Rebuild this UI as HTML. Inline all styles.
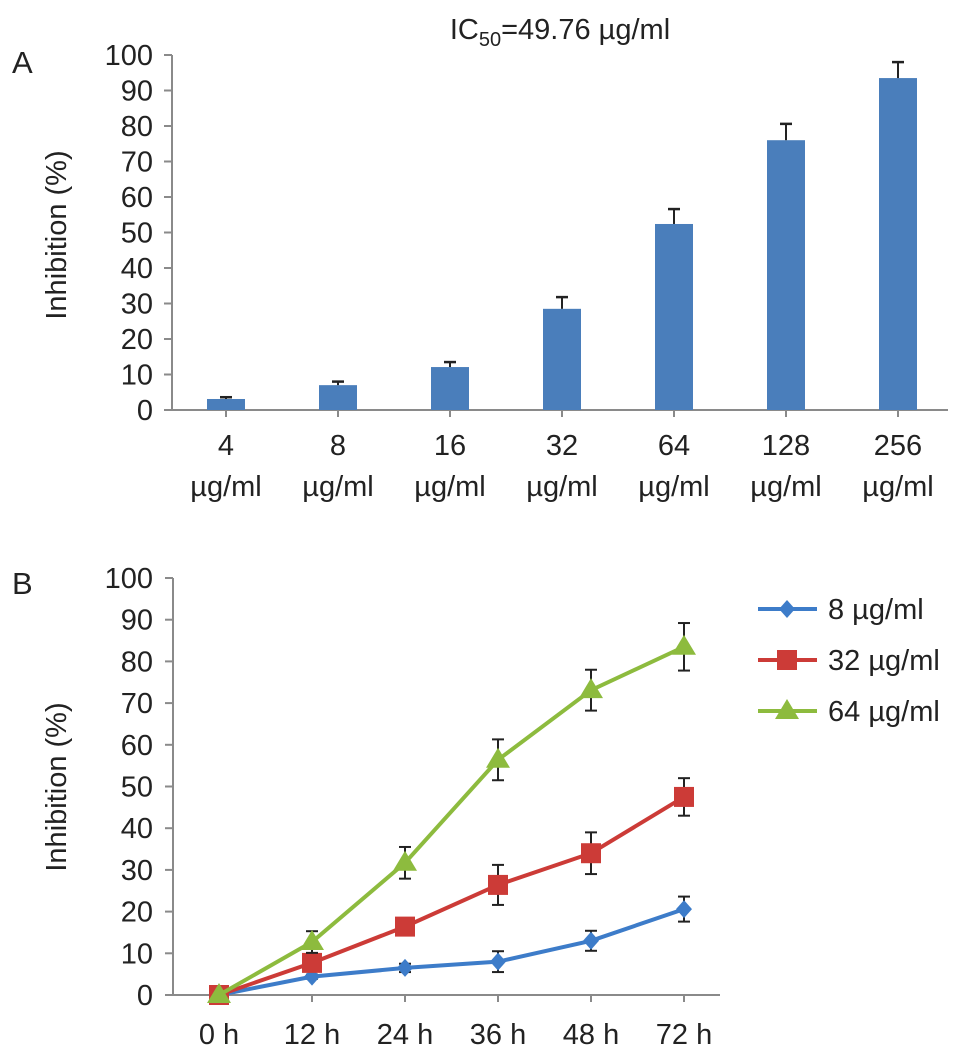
<!DOCTYPE html>
<html><head><meta charset="utf-8"><style>
body{margin:0;background:#fff;}
svg{display:block;font-family:"Liberation Sans",Arial,sans-serif;}
</style></head><body>
<svg id="fig" width="969" height="1055" viewBox="0 0 969 1055">
<text x="12" y="73" font-size="31" fill="#222">A</text>
<text x="12" y="594" font-size="31" fill="#222">B</text>
<text x="560" y="39" font-size="29" text-anchor="middle" fill="#222">IC<tspan font-size="20" dy="7">50</tspan><tspan dy="-7">=49.76 µg/ml</tspan></text>
<text transform="translate(66,235) rotate(-90)" font-size="29" text-anchor="middle" fill="#222">Inhibition (%)</text>
<text transform="translate(66,787) rotate(-90)" font-size="29" text-anchor="middle" fill="#222">Inhibition (%)</text>
<g id="ga"></g><g id="gb"></g>
</svg>
<script>
const aCategories=["4","8","16","32","64","128","256"];
const aValues=[3.1,7,12.1,28.5,52.4,76,93.5];
const aErrors=[0.5,1,1.4,3.3,4.2,4.6,4.5];
const aTicks=[0,10,20,30,40,50,60,70,80,90,100];
const bCategories=["0 h","12 h","24 h","36 h","48 h","72 h"];
const bBlue=[0,4.4,6.5,8,13,20.6];
const bBlueErr=[0,0.5,1,2.5,2.4,3];
const bRed=[0,7.7,16.4,26.4,34,47.5];
const bRedErr=[0,0.6,1.8,4.8,5,4.5];
const bGreen=[0,12.7,31.7,56.4,73.1,83.5];
const bGreenErr=[0,2.6,3.8,4.9,4.9,5.7];
const bSeriesNames=["8 µg/ml","32 µg/ml","64 µg/ml"];
const bTicks=[0,10,20,30,40,50,60,70,80,90,100];
const NS="http://www.w3.org/2000/svg";
function mk(p,t,a){const e=document.createElementNS(NS,t);for(const k in a)e.setAttribute(k,a[k]);p.appendChild(e);return e;}
// Chart A
const ga=document.getElementById('ga');
const ay=v=>410-v*3.55, ax=i=>226+i*112;
mk(ga,'line',{x1:172,y1:ay(0),x2:948,y2:ay(0),stroke:'#8a8a8a','stroke-width':2});
mk(ga,'line',{x1:172,y1:ay(100),x2:172,y2:ay(0),stroke:'#8a8a8a','stroke-width':2});
aTicks.forEach(t=>{
 mk(ga,'line',{x1:164,y1:ay(t),x2:172,y2:ay(t),stroke:'#8a8a8a','stroke-width':2});
 const tx=mk(ga,'text',{x:153,y:ay(t)+10,'font-size':29,'text-anchor':'end',fill:'#222'});tx.textContent=t;
 
 
});
aCategories.forEach((c,i)=>{
 const x=ax(i);
 mk(ga,'line',{x1:x,y1:ay(0),x2:x,y2:ay(0)+7,stroke:'#8a8a8a','stroke-width':2});
 const r=mk(ga,'rect',{x:x-19,y:ay(aValues[i]),width:38,height:ay(0)-ay(aValues[i]),fill:'#4a7ebb'});
 
 
 const top=ay(aValues[i]+aErrors[i]);
 mk(ga,'line',{x1:x,y1:ay(aValues[i]),x2:x,y2:top,stroke:'#222','stroke-width':2});
 mk(ga,'line',{x1:x-6,y1:top,x2:x+6,y2:top,stroke:'#222','stroke-width':2.5});
 const t1=mk(ga,'text',{x:x,y:455,'font-size':29,'text-anchor':'middle',fill:'#222'});t1.textContent=c;
 
 
 const t2=mk(ga,'text',{x:x,y:496,'font-size':29,'text-anchor':'middle',fill:'#222'});t2.textContent='µg/ml';
 
 
});
// Chart B
const gb=document.getElementById('gb');
const by=v=>995-v*4.17, bx=i=>219+i*93;
mk(gb,'line',{x1:173,y1:by(0),x2:720,y2:by(0),stroke:'#8a8a8a','stroke-width':2});
mk(gb,'line',{x1:173,y1:by(100),x2:173,y2:by(0),stroke:'#8a8a8a','stroke-width':2});
bTicks.forEach(t=>{
 mk(gb,'line',{x1:165,y1:by(t),x2:173,y2:by(t),stroke:'#8a8a8a','stroke-width':2});
 const tx=mk(gb,'text',{x:153,y:by(t)+10,'font-size':29,'text-anchor':'end',fill:'#222'});tx.textContent=t;
 
 
});
bCategories.forEach((c,i)=>{
 const x=bx(i);
 mk(gb,'line',{x1:x,y1:by(0),x2:x,y2:by(0)+7,stroke:'#8a8a8a','stroke-width':2});
 const tx=mk(gb,'text',{x:x,y:1044,'font-size':29,'text-anchor':'middle',fill:'#222'});tx.textContent=c;
 
 
});
const series=[[bBlue,bBlueErr,'#3d7cc9','diamond'],[bRed,bRedErr,'#cc3b37','square'],[bGreen,bGreenErr,'#8dbb3e','triangle']];
function marker(g,shape,x,y,col){
 if(shape==='diamond')return mk(g,'polygon',{points:`${x},${y-9} ${x+8},${y} ${x},${y+9} ${x-8},${y}`,fill:col});
 if(shape==='square')return mk(g,'rect',{x:x-10,y:y-10,width:20,height:20,fill:col});
 return mk(g,'polygon',{points:`${x},${y-12} ${x+12},${y+8} ${x-12},${y+8}`,fill:col});
}
series.forEach((s,k)=>{
 const [vals,errs,col,shape]=s;
 vals.forEach((v,i)=>{
  if(errs[i]>0){const x=bx(i),t=by(v+errs[i]),b=by(v-errs[i]);
   mk(gb,'line',{x1:x,y1:t,x2:x,y2:b,stroke:'#222','stroke-width':2});
   mk(gb,'line',{x1:x-6,y1:t,x2:x+6,y2:t,stroke:'#222','stroke-width':2});
   mk(gb,'line',{x1:x-6,y1:b,x2:x+6,y2:b,stroke:'#222','stroke-width':2});}
 });
 const p=mk(gb,'polyline',{points:vals.map((v,i)=>bx(i)+','+by(v)).join(' '),fill:'none',stroke:col,'stroke-width':4});
 
 
 vals.forEach((v,i)=>{const m=marker(gb,shape,bx(i),by(v),col);
  
  });
 const ly=609+k*51;
 const lg=mk(gb,'g',{});
 
 
 mk(lg,'line',{x1:758,y1:ly,x2:817,y2:ly,stroke:col,'stroke-width':4});
 marker(lg,shape,787,ly,col);
 const lt=mk(lg,'text',{x:828,y:ly+10,'font-size':29,fill:'#222'});lt.textContent=bSeriesNames[k];
});
</script>
</body></html>
